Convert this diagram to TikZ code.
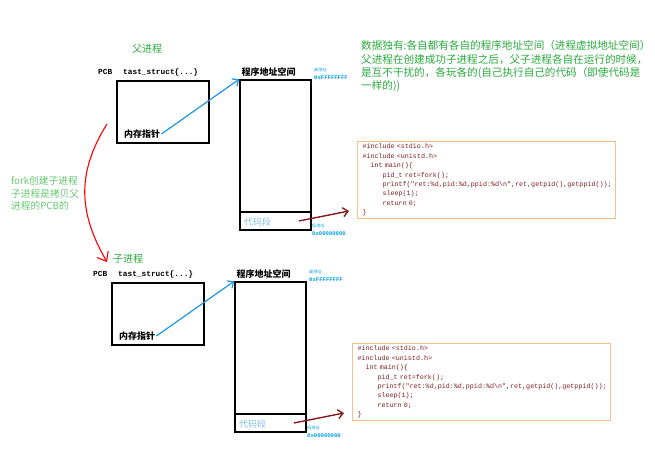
\documentclass[tikz,border=0pt]{standalone}
\usepackage{fontspec}
\setmainfont{Noto Sans CJK SC}
\newfontfamily\codefont{Liberation Mono}
\usetikzlibrary{arrows.meta}
\definecolor{notegreen}{RGB}{40,170,60}
\definecolor{forkgreen}{RGB}{100,200,110}
\definecolor{ptrblue}{RGB}{30,150,230}
\definecolor{segblue}{RGB}{130,190,230}
\definecolor{addrblue}{RGB}{0,160,230}
\definecolor{codered}{RGB}{130,30,30}
\definecolor{codeframe}{RGB}{250,190,140}
\newcommand\maincode{\#include <stdio.h>\\\#include <unistd.h>\\\hspace*{8pt}int main()\{\\%
\hspace*{20pt}pid\_t ret=fork();\\%
\hspace*{20pt}printf("ret:\%d,pid:\%d,ppid:\%d\textbackslash n",ret,getpid(),getppid());\\%
\hspace*{20pt}sleep(1);\\\hspace*{20pt}return 0;\\\}}

\begin{document}
\begin{tikzpicture}[x=1pt,y=-1pt,
  box/.style={draw,line width=1.6pt,inner sep=0pt},
  lbl/.style={inner sep=1pt,font=\fontsize{9}{11}\selectfont\bfseries},
  pcbtext/.style={inner sep=0pt,font=\codefont\fontsize{7.8}{9}\selectfont\bfseries},
  segtext/.style={inner sep=0pt,text=segblue,font=\fontsize{9}{11}\selectfont},
  addrtext/.style={inner sep=0pt,align=left,text=addrblue,font=\fontsize{4.2}{8}\selectfont},
  title/.style={inner sep=0pt,text=notegreen,font=\fontsize{10}{12}\selectfont},
  codebox/.style={draw=codeframe,line width=1pt,text=codered,text width=248pt,align=left,
    minimum height=77pt,inner xsep=5pt,inner ysep=0pt,font=\codefont\fontsize{6.7}{9.4}\selectfont},
  ptrarrow/.style={draw=ptrblue,line width=1.2pt,-{Straight Barb[length=5pt,width=9pt]}},
  segarrow/.style={draw=codered,line width=1.4pt,-{Straight Barb[length=5pt,width=9pt]}},
  forkarrow/.style={draw=red,line width=1.1pt,-{Straight Barb[length=8pt,width=13pt]}}]
\useasboundingbox (0,0) rectangle (655,451);

% notes
\node[inner sep=0pt,anchor=north west,align=left,text=notegreen,font=\fontsize{10.6}{13.3}\selectfont] (datanote) at (361,40.5)
  {数据独有:各自都有各自的程序地址空间（进程虚拟地址空间）\\父进程在创建成功子进程之后，父子进程各自在运行的时候，\\是互不干扰的，各玩各的(自己执行自己的代码（即使代码是\\一样的))};
\node[inner sep=0pt,anchor=north west,align=left,text=forkgreen,font=\fontsize{9.7}{12.5}\selectfont] (forknote) at (11,176.5)
  {fork创建子进程\\子进程是拷贝父\\进程的PCB的};
\node[title] (parent) at (147,49) {父进程};
\node[title] (child) at (128,259) {子进程};

% parent and child
\foreach \p/\dx/\dy in {A/0/0,B/-5/202}{
\begin{scope}[shift={(\dx,\dy)}]
\node[box,minimum width=92pt,minimum height=62pt] (pcb\p) at (163,112) {};
\node[pcbtext,anchor=west] (pcbname\p) at (98,72) {PCB\hspace{11pt}tast\_struct\{...\}};
\node[lbl,anchor=west] (mem\p) at (123,134) {内存指针};
\node[box,minimum width=71pt,minimum height=150pt] (addr\p) at (275.5,155) {};
\node[box,minimum width=71pt,minimum height=18pt] (seg\p) at (275.5,221) {};
\node[segtext,anchor=west] (segname\p) at (244,222) {代码段};
\node[lbl] (addrname\p) at (268.5,72) {程序地址空间};
\node[addrtext,anchor=north west] (high\p) at (314,68) {高地址\\{\codefont\bfseries\fontsize{5.6}{8}\selectfont 0xFFFFFFFF}};
\node[addrtext,anchor=north west] (low\p) at (312,224) {低地址\\{\codefont\bfseries\fontsize{5.6}{8}\selectfont 0x00000000}};
\node[codebox,anchor=north west] (code\p) at (357,141) {\maincode};
\draw[ptrarrow] (mem\p.east) -- (addr\p.north west);
\draw[segarrow] ([xshift=-13pt]seg\p.east) -- ([xshift=-8pt,yshift=8pt]code\p.south west);
\end{scope}
}

% fork
\coordinate (forkS) at (107,124);
\coordinate (forkE) at (107,262);
\draw[forkarrow] (forkS) .. controls (75,175) and (80,215) .. (forkE);
\end{tikzpicture}
\end{document}
